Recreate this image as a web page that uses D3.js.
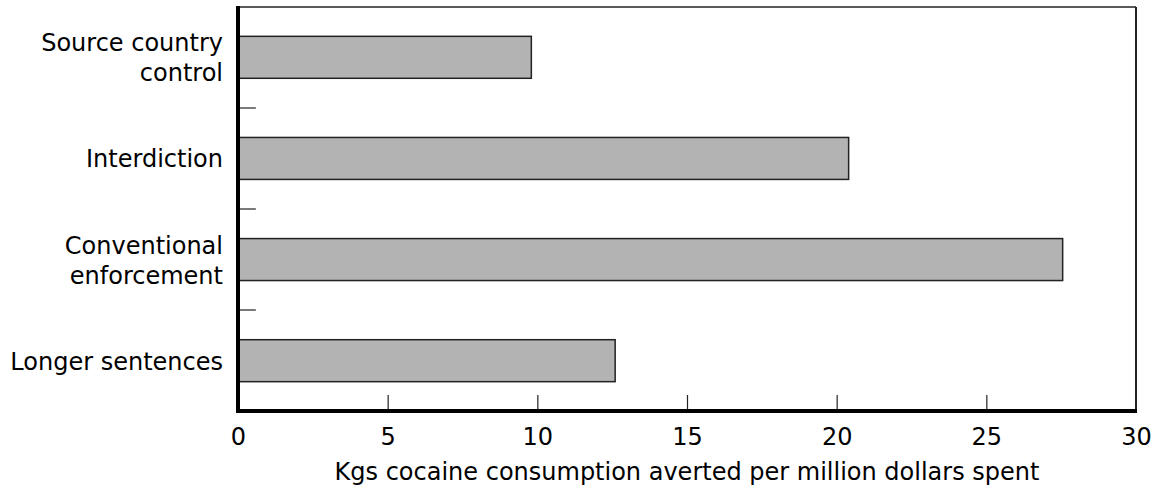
<!DOCTYPE html>
<html><head><meta charset="utf-8">
<script src="https://cdn.jsdelivr.net/npm/d3@7"></script>
<style>body{margin:0;background:#fff}svg{display:block}text{font-family:"DejaVu Sans",sans-serif;fill:#000}</style>
</head><body>
<svg id="c" width="1156" height="489"></svg>
<script>
const categories = [["Source country","control"],["Interdiction"],["Conventional","enforcement"],["Longer sentences"]];
const values = [9.8, 20.4, 27.55, 12.6];
const xTicks = [0,5,10,15,20,25,30];
const xTitle = "Kgs cocaine consumption averted per million dollars spent";

const svg = d3.select("#c");
const L=238, R=1136, T=7, B=411;
const FS = 24;
const x = d3.scaleLinear().domain([0,30]).range([L,R]);
const y = d3.scaleBand().domain(d3.range(categories.length)).range([T,B]).paddingInner(0.585).paddingOuter(0.29);
const yb = d3.scaleBand().domain(d3.range(categories.length)).range([T,B]);

svg.append("line").attr("x1",L).attr("x2",R).attr("y1",T).attr("y2",T).attr("stroke","#222").attr("stroke-width",1.5);
svg.append("line").attr("x1",R).attr("x2",R).attr("y1",T).attr("y2",B).attr("stroke","#222").attr("stroke-width",2);

svg.selectAll("rect.bar").data(values).join("rect").attr("class","bar")
  .attr("x",x(0)).attr("y",(d,i)=>y(i)).attr("width",d=>x(d)-x(0)).attr("height",y.bandwidth())
  .attr("fill","#b3b3b3").attr("stroke","#222").attr("stroke-width",1.5);

const xa = svg.append("g").attr("transform",`translate(0,${B})`)
  .call(d3.axisBottom(x).tickValues(xTicks).tickSize(-16).tickPadding(17).tickFormat(d3.format("d")));
xa.select(".domain").remove();
xa.selectAll(".tick line").attr("stroke","#222").attr("stroke-width",1.2);
xa.selectAll(".tick text").style("font-size",FS+"px").style("font-family","DejaVu Sans");
xa.selectAll(".tick").filter(d=>d===0||d===30).select("line").remove();
svg.append("line").attr("x1",L-2).attr("x2",R+1).attr("y1",B).attr("y2",B).attr("stroke","#000").attr("stroke-width",4);

svg.selectAll("line.yt").data(d3.range(1,categories.length)).join("line").attr("class","yt")
  .attr("x1",L).attr("x2",L+18).attr("y1",d=>yb(d)).attr("y2",d=>yb(d)).attr("stroke","#222").attr("stroke-width",1.2);
svg.append("line").attr("x1",L).attr("x2",L).attr("y1",T-1).attr("y2",B+2).attr("stroke","#000").attr("stroke-width",4);

categories.forEach((lines,i)=>{
  const cy = y(i)+y.bandwidth()/2;
  lines.forEach((s,j)=>{
    svg.append("text").attr("text-anchor","end").style("font-size",FS+"px")
      .attr("x",223).attr("y",cy + (j-(lines.length-1)/2)*30 + 9).text(s);
  });
});

svg.append("text").attr("x",(L+R)/2).attr("y",480).attr("text-anchor","middle").style("font-size",FS+"px").text(xTitle);
</script>
</body></html>
